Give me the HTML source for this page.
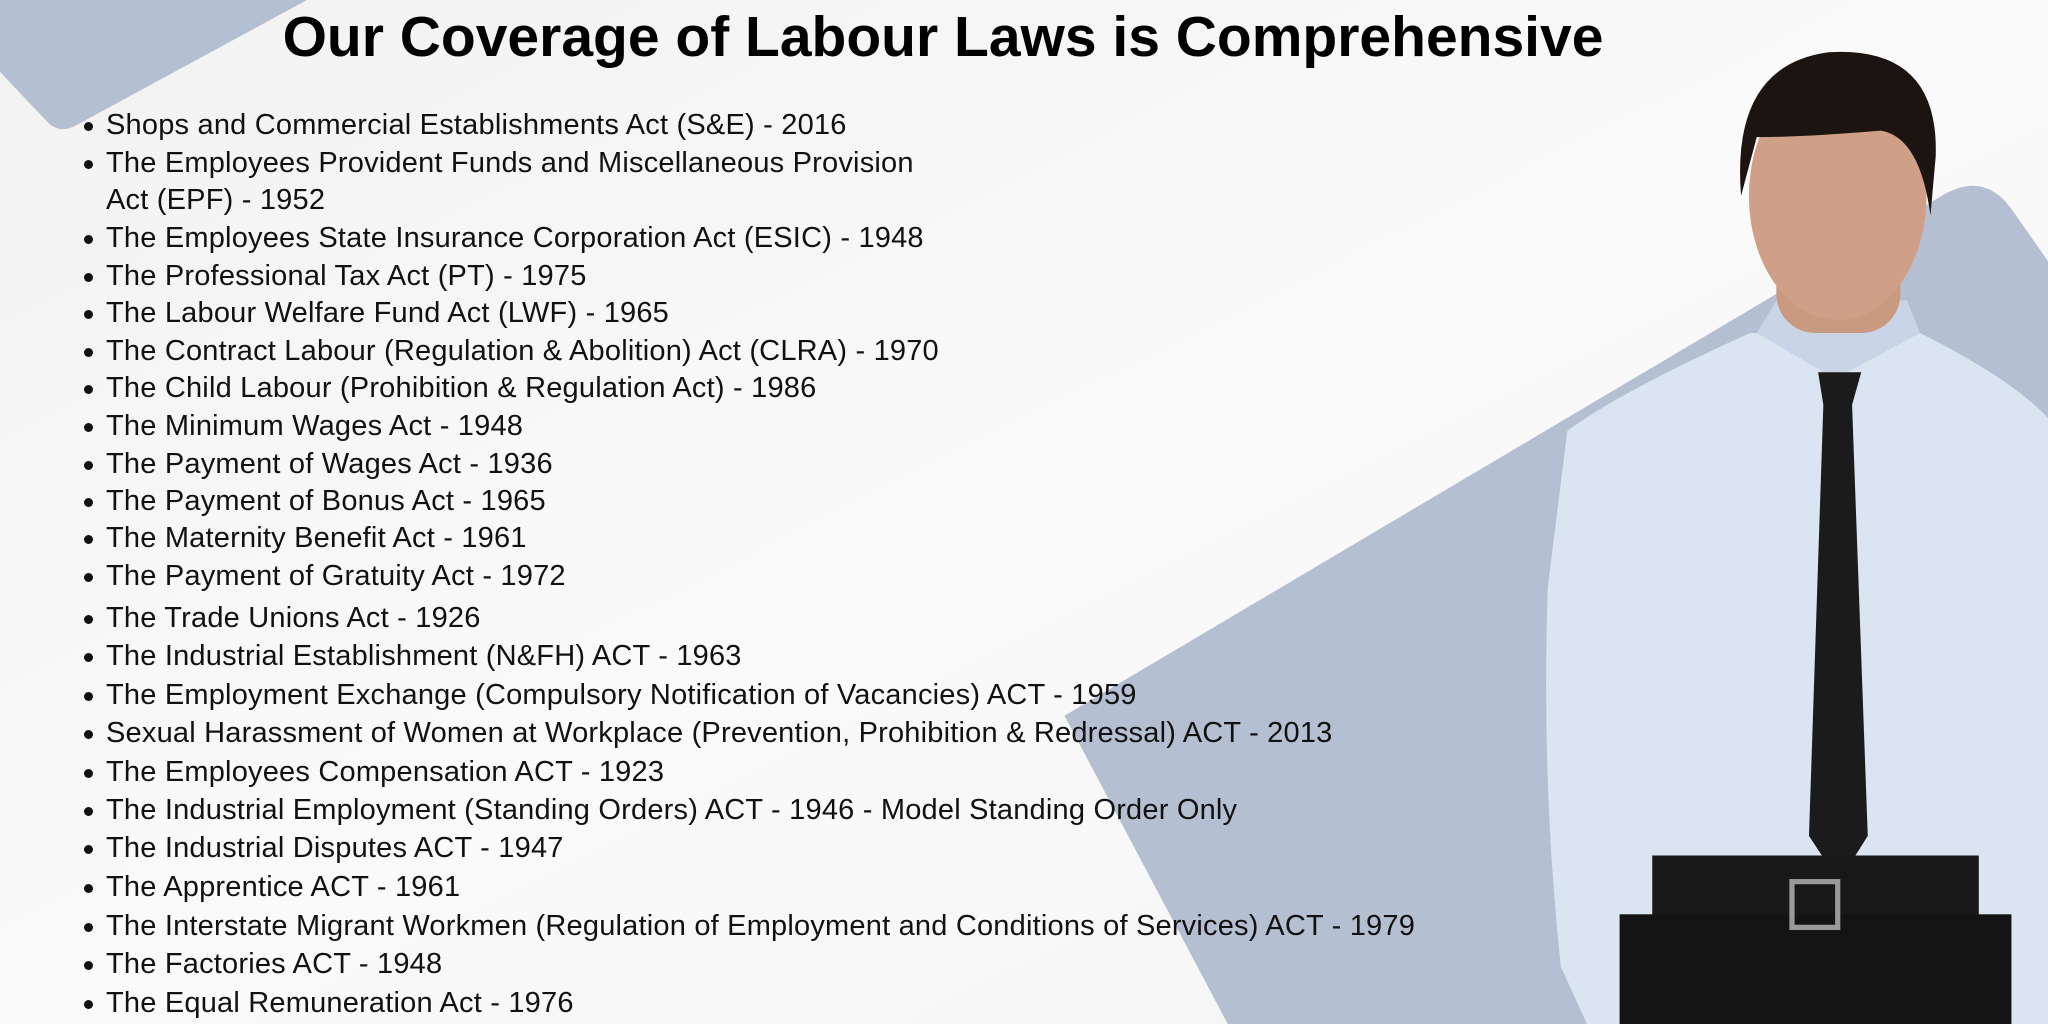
<!DOCTYPE html>
<html><head><meta charset="utf-8"><style>
html,body{margin:0;padding:0;}
body{width:2048px;height:1024px;position:relative;overflow:hidden;background:#f4f4f5;font-family:"Liberation Sans",sans-serif;}
svg.bg{position:absolute;left:0;top:0;}
h1{position:absolute;left:0;width:1886px;text-align:center;top:4px;margin:0;font-size:57px;font-weight:bold;color:#000;}
ul{position:absolute;left:80px;top:0;margin:0;padding:0;list-style:none;}
li{position:absolute;left:0;white-space:nowrap;font-size:29px;letter-spacing:0.2px;color:#111;line-height:32px;}
li::before{content:"";position:absolute;left:4px;top:13px;width:9px;height:9px;border-radius:50%;background:#111;}
li span{position:absolute;left:26px;}
</style></head><body>
<svg class="bg" width="2048" height="1024" viewBox="0 0 1568 784">
<defs><linearGradient id="g" x1="0" y1="0" x2="1" y2="1">
<stop offset="0" stop-color="#f2f2f3"/><stop offset="0.5" stop-color="#fafafa"/><stop offset="1" stop-color="#f4f4f5"/></linearGradient></defs>
<rect width="1568" height="784" fill="url(#g)"/>
<path d="M0 0 L235 0 L60 95 Q45 104 35 92 L0 55 Z" fill="#b5bfd2"/>
<path d="M815 548 L1490 148 Q1520 132 1540 160 L1568 200 L1568 784 L940 784 Z" fill="#b5bfd2"/>
<path d="M1200 330 Q1240 300 1340 255 L1470 255 Q1540 290 1568 320 L1568 784 L1215 784 L1195 740 Q1180 600 1185 450 Z" fill="#dbe4f1"/>
<path d="M1345 255 L1405 290 L1470 255 L1460 230 L1360 230 Z" fill="#c9d4e6"/>
<rect x="1360" y="170" width="95" height="85" rx="30" fill="#c99a80"/>
<ellipse cx="1407" cy="150" rx="68" ry="95" fill="#cfa087"/>
<path d="M1333 150 Q1325 50 1400 40 Q1485 35 1482 120 L1478 165 Q1470 105 1440 100 Q1380 105 1345 105 Z" fill="#1c1410"/>
<path d="M1392 285 L1425 285 L1418 310 L1430 640 L1408 675 L1385 640 L1396 310 Z" fill="#1b1b1b"/>
<rect x="1265" y="655" width="250" height="50" fill="#181818"/>
<rect x="1240" y="700" width="300" height="84" fill="#141414"/>
<rect x="1372" y="675" width="35" height="35" fill="none" stroke="#999" stroke-width="4"/>
</svg>
<h1>Our Coverage of Labour Laws is Comprehensive</h1>
<ul>
<li style="top:109px"><span>Shops and Commercial Establishments Act (S&amp;E) - 2016</span></li>
<li style="top:147px"><span>The Employees Provident Funds and Miscellaneous Provision</span></li>
<li style="top:184px;"><span>Act (EPF) - 1952</span></li>
<li style="top:222px"><span>The Employees State Insurance Corporation Act (ESIC) - 1948</span></li>
<li style="top:260px"><span>The Professional Tax Act (PT) - 1975</span></li>
<li style="top:297px"><span>The Labour Welfare Fund Act (LWF) - 1965</span></li>
<li style="top:335px"><span>The Contract Labour (Regulation &amp; Abolition) Act (CLRA) - 1970</span></li>
<li style="top:372px"><span>The Child Labour (Prohibition &amp; Regulation Act) - 1986</span></li>
<li style="top:410px"><span>The Minimum Wages Act - 1948</span></li>
<li style="top:448px"><span>The Payment of Wages Act - 1936</span></li>
<li style="top:485px"><span>The Payment of Bonus Act - 1965</span></li>
<li style="top:522px"><span>The Maternity Benefit Act - 1961</span></li>
<li style="top:560px"><span>The Payment of Gratuity Act - 1972</span></li>
<li style="top:602px"><span>The Trade Unions Act - 1926</span></li>
<li style="top:640px"><span>The Industrial Establishment (N&amp;FH) ACT - 1963</span></li>
<li style="top:679px"><span>The Employment Exchange (Compulsory Notification of Vacancies) ACT - 1959</span></li>
<li style="top:717px"><span>Sexual Harassment of Women at Workplace (Prevention, Prohibition &amp; Redressal) ACT - 2013</span></li>
<li style="top:756px"><span>The Employees Compensation ACT - 1923</span></li>
<li style="top:794px"><span>The Industrial Employment (Standing Orders) ACT - 1946 - Model Standing Order Only</span></li>
<li style="top:832px"><span>The Industrial Disputes ACT - 1947</span></li>
<li style="top:871px"><span>The Apprentice ACT - 1961</span></li>
<li style="top:910px"><span>The Interstate Migrant Workmen (Regulation of Employment and Conditions of Services) ACT - 1979</span></li>
<li style="top:948px"><span>The Factories ACT - 1948</span></li>
<li style="top:987px"><span>The Equal Remuneration Act - 1976</span></li>
</ul>
<style>li:nth-child(3)::before{display:none}</style>
</body></html>
